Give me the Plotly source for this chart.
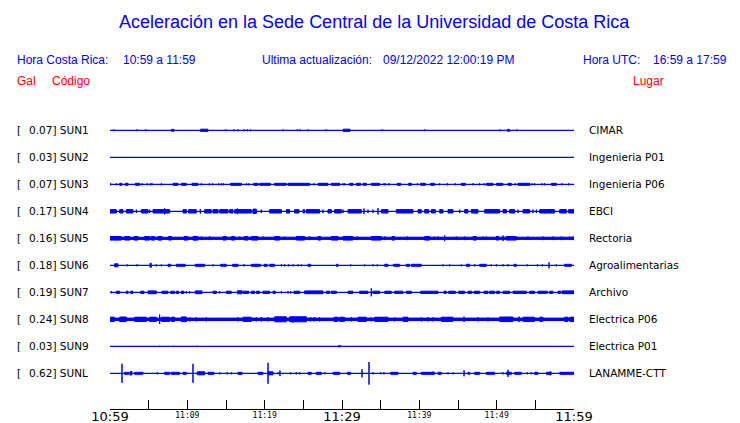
import plotly.graph_objects as go

# ---------------- data ----------------
codes = ["SUN1", "SUN2", "SUN3", "SUN4", "SUN5", "SUN6", "SUN7", "SUN8", "SUN9", "SUNL"]
peak_gal = [0.07, 0.03, 0.07, 0.17, 0.16, 0.18, 0.19, 0.24, 0.03, 0.62]
places = ["CIMAR", "Ingenieria P01", "Ingenieria P06", "EBCI", "Rectoria",
          "Agroalimentarias", "Archivo", "Electrica P06", "Electrica P01", "LANAMME-CTT"]

tick_minutes = [0, 5, 10, 15, 20, 25, 30, 35, 40, 45, 50, 55, 60]
major_minutes = [0, 30, 60]
major_labels = ["10:59", "11:29", "11:59"]
minor_minutes = [10, 20, 40, 50]
minor_labels = ["11:09", "11:19", "11:39", "11:49"]

# continuous background band amplitude and default burst amplitude (display units)
band_amp = [0, 0, 0, 0, 1.6, 0, 0, 1.7, 0, 0]
burst_amp = [1.4, 1.0, 1.5, 2.2, 2.3, 1.5, 1.6, 2.6, 1.0, 1.5]

# bursts: (start minute, end minute[, amplitude])
SUN1_ev = [(0.52, 0.52), (3.5, 3.5), (4.65, 4.65), (7.93, 8.28), (11.72, 12.67, 1.6), (15.0, 15.0),
           (16.03, 16.03), (16.55, 16.55), (17.33, 17.33), (17.76, 17.76), (18.19, 18.19),
           (22.37, 22.37), (24.22, 24.22), (24.57, 24.57), (25.6, 25.6), (27.93, 27.93),
           (30.17, 31.03, 1.6), (35.17, 35.17), (40.69, 40.69), (50.43, 50.43), (51.38, 51.68),
           (52.63, 52.63)]
SUN2_ev = []
SUN3_ev = [(0.09, 0.09), (0.82, 0.82), (1.25, 1.55), (1.98, 2.33), (3.28, 3.84), (4.14, 4.14),
           (4.83, 4.83), (5.26, 5.26), (5.43, 5.43), (6.64, 6.64), (8.15, 8.79), (9.22, 9.87),
           (10.6, 11.38), (11.81, 11.81), (12.84, 12.84), (13.28, 13.28), (14.05, 14.05),
           (14.4, 14.4), (14.66, 14.66), (15.6, 16.98), (17.63, 17.63), (17.93, 17.93),
           (18.58, 19.14), (19.35, 20.73), (21.29, 22.8), (23.02, 25.82), (26.38, 26.38),
           (26.9, 28.19), (28.62, 29.7), (30.13, 30.13), (30.34, 30.34), (30.99, 31.42),
           (31.85, 32.41), (32.72, 33.15), (33.79, 34.87), (35.43, 35.43), (35.6, 35.6),
           (36.08, 36.08), (37.16, 37.59), (38.62, 38.97), (39.74, 39.74), (40.17, 40.78),
           (41.47, 41.98), (42.63, 42.63), (43.62, 43.62), (44.66, 44.66), (45.43, 45.95),
           (46.94, 46.94), (47.8, 47.8), (48.36, 48.36), (48.66, 49.53), (49.96, 50.82),
           (51.47, 51.9), (52.41, 52.41), (52.76, 54.27), (54.57, 54.57), (54.91, 54.91),
           (55.86, 55.86), (56.21, 56.21), (57.07, 57.72), (58.45, 58.45), (59.31, 59.31)]
SUN4_ev = [(0.0, 0.82), (1.25, 1.68), (2.11, 2.97), (3.41, 3.41), (4.05, 4.91), (5.13, 5.13),
           (5.56, 7.72), (7.07, 7.07, 3.5), (9.44, 9.87), (10.17, 11.16), (11.68, 11.68, 2.8),
           (12.24, 13.1), (13.32, 13.97), (14.18, 15.26), (15.47, 15.9), (16.12, 18.28),
           (16.47, 16.47, 3.3), (18.49, 18.92, 2.7), (19.57, 19.57), (20.65, 22.16),
           (22.8, 23.23), (23.88, 24.44), (24.96, 25.17), (25.39, 27.11), (27.54, 27.54),
           (28.19, 28.62), (29.05, 29.91), (30.13, 30.13), (30.78, 32.5), (32.84, 32.84, 3.3),
           (33.36, 33.36), (34.0, 34.0), (34.66, 34.66, 3.7), (35.09, 35.95), (37.03, 39.18),
           (39.83, 40.26), (40.69, 41.21), (41.55, 42.07), (42.63, 43.06), (43.71, 44.35),
           (45.22, 45.22), (45.86, 46.29), (46.72, 47.59), (47.37, 47.37, 2.8), (48.45, 50.39),
           (50.82, 51.25), (51.68, 52.33), (52.76, 52.76), (53.41, 54.27), (54.7, 54.7),
           (55.13, 55.13), (55.56, 57.5), (56.21, 56.21, 2.6), (58.15, 59.01), (59.31, 60.0)]
SUN5_ev = [(0.0, 1.47), (1.9, 2.54), (3.1, 3.62), (4.48, 5.13), (5.34, 5.78), (6.21, 6.72),
           (7.59, 7.93), (9.57, 10.09), (10.73, 11.38), (10.95, 10.95, 3.0), (11.81, 11.81),
           (12.89, 12.89), (14.61, 15.04), (15.69, 16.12), (16.77, 16.77), (17.41, 17.84),
           (18.28, 19.14), (19.78, 19.78), (21.29, 21.94), (22.59, 22.59), (24.1, 25.17),
           (25.82, 25.82), (26.9, 27.24), (28.62, 29.48), (30.13, 31.42), (31.98, 31.98),
           (33.79, 35.09), (35.52, 35.52), (36.47, 36.81), (38.45, 38.45), (40.69, 41.34),
           (41.98, 41.98), (42.41, 42.41), (43.28, 43.28, 3.3), (44.78, 44.78), (45.86, 45.86),
           (46.94, 47.37), (48.23, 48.23), (48.66, 48.66), (49.96, 50.26), (50.82, 50.82, 3.3),
           (51.25, 52.54), (54.05, 54.05), (56.0, 56.0), (57.29, 57.29), (58.36, 58.36),
           (59.44, 59.44), (59.87, 59.87)]
SUN6_ev = [(0.6, 1.03, 2.0), (2.24, 2.24), (3.49, 3.49), (5.17, 5.34, 2.5), (5.99, 5.99),
           (6.64, 6.64), (7.5, 7.84), (8.58, 9.74), (11.03, 12.24), (13.32, 13.32),
           (14.31, 15.04), (15.86, 16.55), (17.33, 17.33), (18.28, 19.48), (19.91, 20.34),
           (20.65, 21.29), (22.16, 22.16), (22.59, 22.59), (23.1, 23.1), (23.66, 23.66),
           (24.31, 24.31), (24.74, 24.74), (25.6, 25.95), (29.27, 29.48), (31.12, 31.12),
           (32.93, 32.93), (34.0, 34.0), (34.57, 34.57), (35.52, 35.95), (36.64, 37.46),
           (38.32, 38.75), (38.97, 40.26), (43.06, 43.06), (43.92, 43.92), (45.43, 45.43),
           (46.08, 46.51), (47.16, 47.16), (47.8, 48.66), (49.31, 49.31), (49.96, 49.96),
           (50.82, 50.82), (51.47, 51.47), (52.24, 52.54), (53.97, 53.97), (55.26, 55.26),
           (55.91, 55.91), (56.77, 56.77, 3.5), (57.72, 57.72), (58.79, 59.66)]
SUN7_ev = [(0.17, 0.17), (0.82, 1.25), (2.11, 2.33), (2.67, 2.97), (3.97, 4.4), (4.91, 5.99, 1.9),
           (6.72, 7.5), (7.84, 8.36), (8.58, 8.88), (9.22, 9.57), (9.87, 9.87), (10.3, 10.3),
           (11.03, 11.9, 1.9), (13.32, 13.75), (14.18, 14.18), (15.04, 15.69), (16.47, 17.07, 2.0),
           (17.2, 17.93), (18.28, 18.71), (18.92, 19.35), (19.78, 20.65), (21.08, 21.38),
           (22.16, 22.16), (23.02, 23.02), (23.36, 23.36), (23.79, 24.53), (25.17, 27.54, 1.9),
           (27.97, 28.41), (28.62, 29.27), (30.78, 31.42), (32.28, 33.36), (33.79, 33.79, 4.5),
           (34.0, 34.87), (35.52, 36.38), (36.81, 37.89), (38.32, 38.97), (40.17, 42.41),
           (43.19, 43.49), (43.79, 44.66), (45.09, 45.86), (46.29, 46.81), (47.07, 47.8),
           (48.36, 48.88), (49.09, 49.74), (49.96, 50.39), (50.82, 51.68), (52.11, 53.84),
           (54.27, 54.91), (55.34, 56.55), (56.85, 57.29), (57.93, 58.28), (58.45, 60.0, 1.9)]
SUN8_ev = [(0.0, 0.6), (1.25, 2.11, 2.8), (3.19, 4.7), (5.13, 5.99), (6.42, 6.42, 5.2),
           (6.64, 7.72), (7.93, 8.36), (9.22, 9.87, 2.9), (10.3, 10.3), (11.16, 11.16),
           (12.46, 12.46), (16.55, 16.55), (17.2, 18.28), (18.92, 18.92), (19.57, 19.57),
           (20.43, 20.43), (21.29, 22.8, 3.0), (23.23, 25.39, 3.0), (23.66, 23.66, 3.6),
           (25.95, 25.95), (26.38, 26.38), (27.11, 27.11), (28.97, 29.48), (29.7, 30.34),
           (31.21, 31.21), (32.07, 33.15), (33.79, 33.79), (34.22, 35.95), (36.81, 36.81),
           (37.89, 38.53), (40.26, 40.26), (41.12, 41.12), (41.77, 41.77), (42.84, 44.35),
           (45.78, 45.78, 3.2), (47.59, 47.59), (48.88, 48.88), (50.39, 52.11, 2.8),
           (52.89, 52.89, 3.3), (53.41, 54.91), (55.56, 55.99), (58.79, 59.22), (59.44, 60.0)]
SUN9_ev = [(6.42, 6.42), (8.23, 8.23), (11.25, 11.25), (29.48, 29.83)]
SUNL_ev = [(1.55, 1.55, 10.0), (1.9, 2.41), (2.59, 2.84, 2.2), (3.19, 4.27), (6.12, 6.12),
           (7.07, 7.72), (7.93, 9.01), (9.44, 9.87), (10.73, 10.73, 10.0), (11.29, 12.24, 2.0),
           (12.67, 13.45), (14.18, 14.18), (15.17, 15.17), (15.69, 15.69), (16.55, 17.07),
           (19.14, 19.78), (20.43, 20.43, 11.0), (20.43, 21.08, 2.0), (21.72, 21.72),
           (21.98, 21.98, 3.3), (23.36, 23.36), (24.09, 24.09), (24.53, 24.53), (25.6, 26.03),
           (26.68, 27.33), (27.76, 27.76), (28.84, 29.7), (30.69, 31.12), (32.59, 32.59, 4.5),
           (33.49, 33.49, 11.8), (34.0, 34.0), (35.0, 35.0), (35.43, 35.43), (36.29, 37.24),
           (39.18, 39.61), (40.26, 41.98), (41.77, 41.77, 2.2), (42.41, 42.84), (43.71, 43.71),
           (44.35, 44.35), (45.78, 45.78, 3.5), (46.29, 46.51), (47.16, 47.8), (48.66, 49.74),
           (50.82, 50.82), (51.25, 51.9), (51.47, 51.47, 4.0), (52.33, 53.19), (53.97, 53.97),
           (54.48, 54.48), (54.91, 55.34), (56.42, 57.07), (56.94, 56.94, 2.5), (58.15, 60.0)]

events = [SUN1_ev, SUN2_ev, SUN3_ev, SUN4_ev, SUN5_ev, SUN6_ev, SUN7_ev, SUN8_ev, SUN9_ev, SUNL_ev]

title_text = "Aceleración en la Sede Central de la Universidad de Costa Rica"
hora_cr = "10:59 a 11:59"
hora_utc = "16:59 a 17:59"
ultima = "09/12/2022 12:00:19 PM"

# ---------------- layout geometry ----------------
OFF = 8                  # page body margin in the browser
W, H = 740 - OFF, 423 - OFF
L, R = 110 - OFF, 574 - OFF   # plot x extent (px inside figure)
T, B = 100 - OFF, 409 - OFF   # plot y extent (px inside figure)
ROW = 27                 # spacing between traces (display units)
FIRST = 130.3 - OFF      # px of first trace baseline
STROKE = 1.0
BLUE = "#0000ff"
RED = "#ff0000"

y_top = FIRST - T
y_bot = -(B - FIRST)


def xp(px):
    return (px - OFF - L) / (R - L)


def yp(py):
    return (B - (py - OFF)) / (B - T)


fig = go.Figure()

for i, code in enumerate(codes):
    base = -ROW * i
    fig.add_trace(go.Scatter(x=[0, 60], y=[base, base], mode="lines",
                             line=dict(color=BLUE, width=1.2), hoverinfo="skip"))
    evs = list(events[i])
    if band_amp[i]:
        evs = [(0, 60, band_amp[i])] + evs
    xs, ys = [], []
    for ev in evs:
        t0, t1 = ev[0], ev[1]
        a = (ev[2] if len(ev) > 2 else burst_amp[i]) - STROKE / 2
        xs += [t0, t1, t1, t0, t0, None]
        ys += [base - a, base - a, base + a, base + a, base - a, None]
    if xs:
        fig.add_trace(go.Scatter(x=xs, y=ys, mode="lines", fill="toself",
                                 fillcolor=BLUE, line=dict(color=BLUE, width=STROKE),
                                 hoverinfo="skip"))

# invisible trace so the secondary (small label) axis is drawn
fig.add_trace(go.Scatter(x=[0, 60], y=[0, 0], xaxis="x2", mode="lines",
                         line=dict(width=0), opacity=0, hoverinfo="skip"))

ann = []
lab_font = dict(family="DejaVu Sans", size=10.5, color="black")
for i, code in enumerate(codes):
    base = -ROW * i
    ann.append(dict(x=xp(15), y=base, xref="paper", yref="y", text="[",
                    showarrow=False, xanchor="left", yanchor="middle", font=lab_font))
    ann.append(dict(x=xp(27), y=base, xref="paper", yref="y",
                    text=f"{peak_gal[i]:.2f}] {code}",
                    showarrow=False, xanchor="left", yanchor="middle", font=lab_font))
    ann.append(dict(x=xp(587), y=base, xref="paper", yref="y", text=places[i],
                    showarrow=False, xanchor="left", yanchor="middle", font=lab_font))

hdr = dict(family="Liberation Sans, Arial", size=12, color=BLUE)
red = dict(family="Liberation Sans, Arial", size=12, color=RED)


def txt(px, py, s, font, anchor="left"):
    return dict(x=xp(px), y=yp(py), xref="paper", yref="paper", text=s, showarrow=False,
                xanchor=anchor, yanchor="middle", font=font)


ann.append(txt(374.5, 22, title_text, dict(family="Liberation Sans, Arial", size=18, color=BLUE),
               anchor="center"))
ann.append(txt(15, 60.5, "Hora Costa Rica:", hdr))
ann.append(txt(120.5, 60.5, hora_cr, hdr))
ann.append(txt(260, 60.5, "Ultima actualización:", hdr))
ann.append(txt(380.5, 60.5, ultima, hdr))
ann.append(txt(580.5, 60.5, "Hora UTC:", hdr))
ann.append(txt(651, 60.5, hora_utc, hdr))
ann.append(txt(15, 80.5, "Gal", red))
ann.append(txt(50, 80.5, "Código", red))
ann.append(txt(630.5, 80.5, "Lugar", red))

fig.update_layout(
    width=W, height=H, autosize=False,
    margin=dict(l=L, r=W - R, t=T, b=H - B, pad=0, autoexpand=False),
    paper_bgcolor="white", plot_bgcolor="white",
    showlegend=False,
    annotations=ann,
    xaxis=dict(range=[0, 60], showgrid=False, zeroline=False, showline=True, automargin=False,
               linecolor="black", linewidth=1, ticks="inside", ticklen=9,
               tickwidth=1, tickcolor="black", tickmode="array", tickvals=tick_minutes,
               ticktext=[major_labels[major_minutes.index(m)] if m in major_minutes else ""
                         for m in tick_minutes],
               tickfont=dict(family="DejaVu Sans", size=13, color="black"),
               ticklabelstandoff=-5, fixedrange=True),
    xaxis2=dict(range=[0, 60], overlaying="x", anchor="y", side="bottom", showgrid=False,
                zeroline=False, showline=False, automargin=False, ticks="",
                tickmode="array", tickvals=minor_minutes, ticktext=minor_labels,
                tickfont=dict(family="DejaVu Sans Mono", size=8, color="black"),
                ticklabelstandoff=0, fixedrange=True),
    yaxis=dict(range=[y_bot, y_top], visible=False, showgrid=False, zeroline=False,
               automargin=False, fixedrange=True),
)

fig.write_html("out.html", config={"displayModeBar": False})
